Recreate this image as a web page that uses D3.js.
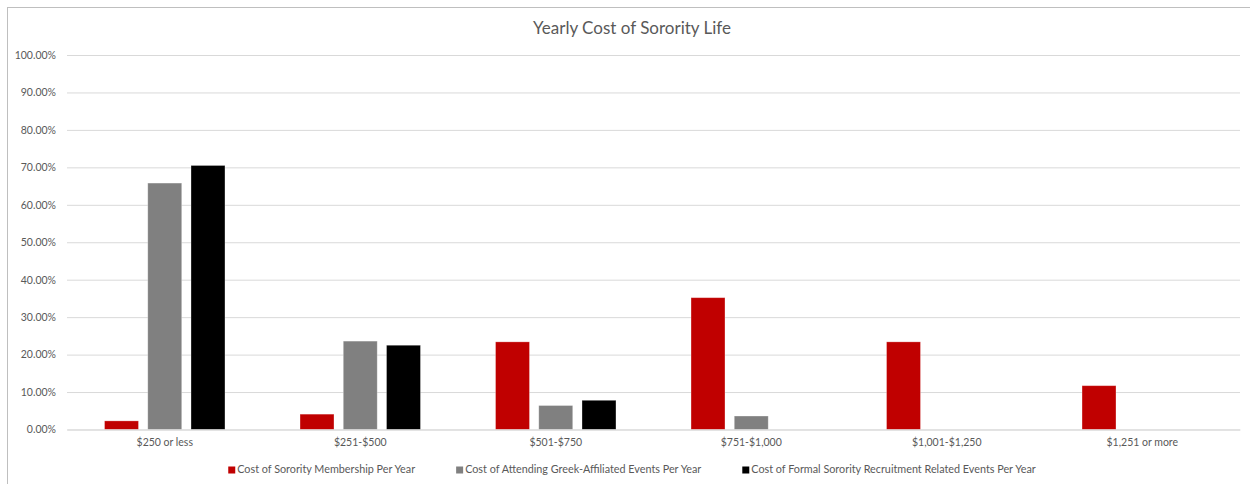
<!DOCTYPE html>
<html>
<head>
<meta charset="utf-8">
<script src="https://cdn.jsdelivr.net/npm/d3@7"></script>
<style>
  html, body { margin: 0; padding: 0; background: #fff; }
  svg { display: block; }
  text { font-family: Lato, "Open Sans", sans-serif; fill: #595959; }
</style>
</head>
<body>
<svg id="chart" width="1250" height="484"></svg>
<script>
// Price brackets shown along the x axis
const categories = ["$250 or less", "$251-$500", "$501-$750", "$751-$1,000", "$1,001-$1,250", "$1,251 or more"];

// Share of respondents (%) per bracket, one array per series
const membership = [2.3, 4.1, 23.4, 35.2, 23.4, 11.7];
const greekEvents = [65.8, 23.6, 6.4, 3.6, 0, 0];
const recruitment = [70.5, 22.5, 7.8, 0, 0, 0];

const seriesNames = [
  "Cost of Sorority Membership Per Year",
  "Cost of Attending Greek-Affiliated Events Per Year",
  "Cost of Formal Sorority Recruitment Related Events Per Year"
];
const yTicks = [0, 10, 20, 30, 40, 50, 60, 70, 80, 90, 100];

const seriesValues = [membership, greekEvents, recruitment];
const colors = ["#C00000", "#808080", "#000000"];

const svg = d3.select("#chart");

// Outer chart frame
svg.append("rect")
  .attr("x", 7.5).attr("y", 7.5)
  .attr("width", 1300).attr("height", 600)
  .attr("fill", "none").attr("stroke", "#BFBFBF").attr("stroke-width", 1);

const plot = { left: 67, right: 1240, top: 55, bottom: 429.5 };
const centerX = 632;

const y = d3.scaleLinear().domain([0, 100]).range([plot.bottom, plot.top]);
const x0 = d3.scaleBand().domain(categories).range([plot.left, plot.right]).padding(0);
const inner = x0.bandwidth();
const x1 = d3.scaleBand().domain(d3.range(3))
  .range([inner * 0.192, inner * 0.808])
  .paddingInner(0.215).paddingOuter(0);

// Title
svg.append("text")
  .attr("x", centerX).attr("y", 34)
  .attr("text-anchor", "middle")
  .style("font-size", "17px")
  .text("Yearly Cost of Sorority Life");

// Gridlines and y labels
const yAxis = d3.axisLeft(y).tickValues(yTicks)
  .tickSize(-(plot.right - plot.left))
  .tickPadding(11)
  .tickFormat(d => d.toFixed(2) + "%");

const gy = svg.append("g")
  .attr("transform", `translate(${plot.left},0)`)
  .call(yAxis);
gy.select(".domain").remove();
gy.selectAll(".tick line").attr("stroke", "#D9D9D9").attr("stroke-width", 1);
gy.selectAll(".tick text").style("font-size", "10.5px").attr("fill", "#595959");

// Bars
const rows = categories.map((c, i) => ({ cat: c, vals: seriesValues.map(s => s[i]) }));
const groups = svg.append("g").selectAll("g")
  .data(rows).join("g")
  .attr("transform", d => `translate(${x0(d.cat)},0)`);

groups.selectAll("rect")
  .data(d => d.vals.map((v, k) => ({ v, k })).filter(e => e.v > 0))
  .join("rect")
  .attr("x", e => x1(e.k))
  .attr("width", x1.bandwidth())
  .attr("y", e => y(e.v))
  .attr("height", e => y(0) - y(e.v))
  .attr("fill", e => colors[e.k])
  .attr("stroke", "#ffffff")
  .attr("stroke-opacity", 0.35)
  .attr("stroke-width", 0.8);

// Category labels
const xAxis = d3.axisBottom(x0).tickSize(0).tickPadding(9);
const gx = svg.append("g")
  .attr("transform", `translate(0,${plot.bottom})`)
  .call(xAxis);
gx.select(".domain").attr("stroke", "#D9D9D9");
gx.selectAll(".tick text").style("font-size", "10.5px").attr("fill", "#595959");

// Legend
const legend = svg.append("g");
const items = legend.selectAll("g").data(seriesNames).join("g");
items.append("rect")
  .attr("width", 7).attr("height", 7)
  .attr("y", -6.5)
  .attr("fill", (d, i) => colors[i]);
items.append("text")
  .attr("x", 9).attr("y", 0)
  .style("font-size", "10.8px")
  .text(d => d);

let offset = 0;
const widths = [];
items.each(function () { widths.push(this.getBBox().width); });
const gap = 41;
const total = d3.sum(widths) + gap * (widths.length - 1);
offset = centerX - total / 2;
items.attr("transform", (d, i) => {
  const t = `translate(${offset},${473})`;
  offset += widths[i] + gap;
  return t;
});
</script>
</body>
</html>
